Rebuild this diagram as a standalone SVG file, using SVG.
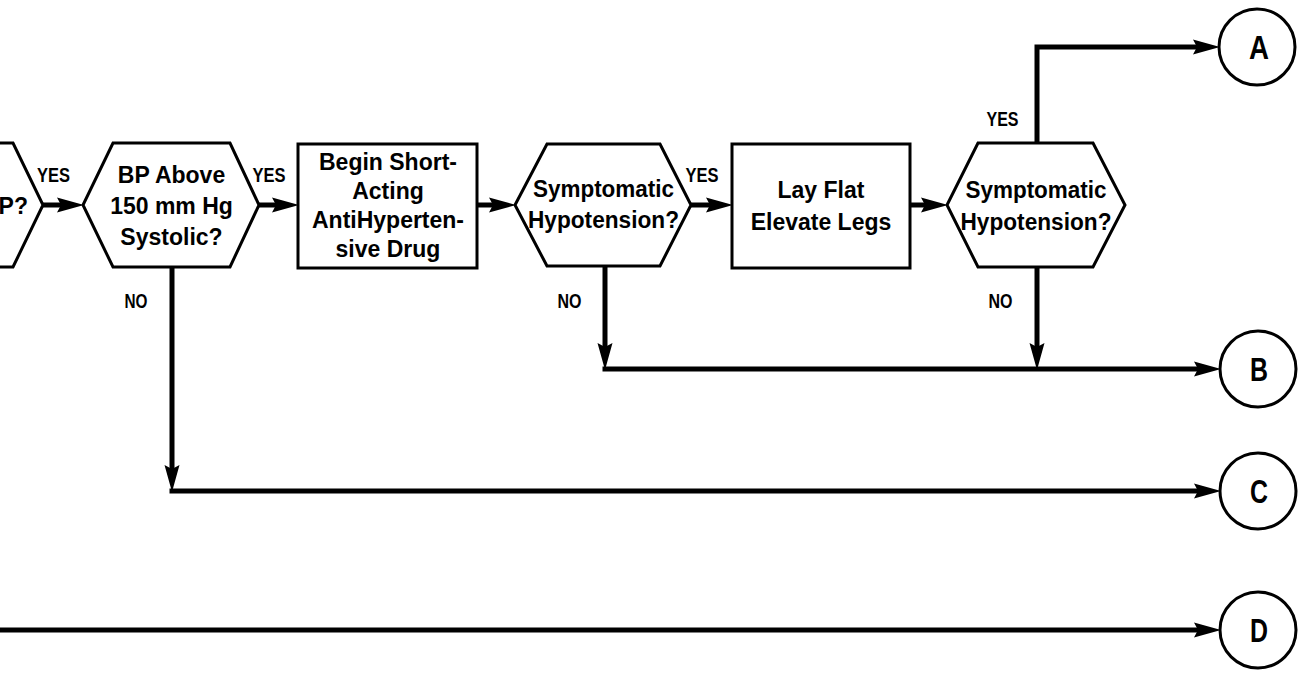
<svg xmlns="http://www.w3.org/2000/svg" width="1298" height="674" viewBox="0 0 1298 674">
<style>
.shape{fill:#fff;stroke:#000;stroke-width:3;stroke-linejoin:miter}
.conn{fill:none;stroke:#000;stroke-width:5}
.t{font-family:"Liberation Sans",Arial,sans-serif;font-weight:bold;font-size:23px;text-anchor:middle;fill:#000}
.lbl{font-family:"Liberation Sans",Arial,sans-serif;font-weight:bold;font-size:20px;text-anchor:middle;fill:#000}
.ltr{font-family:"Liberation Sans",Arial,sans-serif;font-weight:bold;font-size:33px;text-anchor:middle;fill:#000}
</style>
<defs>
<marker id="arr" markerUnits="userSpaceOnUse" markerWidth="28" markerHeight="16" viewBox="0 0 28 16" refX="16" refY="8" orient="auto">
<path d="M0,0.5 L27,8 L0,15.5 L4,8 Z" fill="#000"/>
</marker>
</defs>

<g id="connectors">
<line class="conn" x1="43" y1="205" x2="73" y2="205" marker-end="url(#arr)"/>
<line class="conn" x1="259" y1="205" x2="288" y2="205" marker-end="url(#arr)"/>
<line class="conn" x1="477" y1="205" x2="505" y2="205" marker-end="url(#arr)"/>
<line class="conn" x1="691" y1="205" x2="722" y2="205" marker-end="url(#arr)"/>
<line class="conn" x1="910" y1="205" x2="937" y2="205" marker-end="url(#arr)"/>
<polyline class="conn" points="1037,143 1037,47 1209,47" marker-end="url(#arr)"/>
<line class="conn" x1="1037" y1="267" x2="1037" y2="359" marker-end="url(#arr)"/>
<line class="conn" x1="605" y1="267" x2="605" y2="359" marker-end="url(#arr)"/>
<line class="conn" x1="602.5" y1="369" x2="1210" y2="369" marker-end="url(#arr)"/>
<line class="conn" x1="172" y1="267" x2="172" y2="481" marker-end="url(#arr)"/>
<line class="conn" x1="169.5" y1="491" x2="1210" y2="491" marker-end="url(#arr)"/>
<line class="conn" x1="0" y1="630" x2="1210" y2="630" marker-end="url(#arr)"/>
<text class="lbl" x="53.5" y="182" textLength="33" lengthAdjust="spacingAndGlyphs">YES</text>
<text class="lbl" x="269" y="182" textLength="33" lengthAdjust="spacingAndGlyphs">YES</text>
<text class="lbl" x="702" y="182" textLength="33" lengthAdjust="spacingAndGlyphs">YES</text>
<text class="lbl" x="1002.5" y="126" textLength="32" lengthAdjust="spacingAndGlyphs">YES</text>
<text class="lbl" x="136" y="308" textLength="23" lengthAdjust="spacingAndGlyphs">NO</text>
<text class="lbl" x="569.5" y="308" textLength="24" lengthAdjust="spacingAndGlyphs">NO</text>
<text class="lbl" x="1000.5" y="308" textLength="24" lengthAdjust="spacingAndGlyphs">NO</text>
</g>

<g id="node-bp-prev">
<polyline class="shape" points="-2,143 13,143 43,205 13,267 -2,267"/>
<text class="t" x="28" y="214" style="text-anchor:end">P?</text>
</g>

<g id="node-bp-above">
<polygon class="shape" points="113,143 230,143 259,205 230,267 113,267 83,205"/>
<text class="t" x="171.5" y="183">BP Above</text>
<text class="t" x="171.5" y="214">150 mm Hg</text>
<text class="t" x="171.5" y="245">Systolic?</text>
</g>

<g id="node-begin-drug">
<rect class="shape" x="298" y="144" width="179" height="124"/>
<text class="t" x="388" y="170">Begin Short-</text>
<text class="t" x="388" y="199">Acting</text>
<text class="t" x="388" y="228">AntiHyperten-</text>
<text class="t" x="388" y="257">sive Drug</text>
</g>

<g id="node-symptomatic-1">
<polygon class="shape" points="547,144 660,144 691,205 660,266 547,266 515,205"/>
<text class="t" x="603.5" y="197" textLength="141" lengthAdjust="spacingAndGlyphs">Symptomatic</text>
<text class="t" x="603.5" y="228" textLength="151" lengthAdjust="spacingAndGlyphs">Hypotension?</text>
</g>

<g id="node-lay-flat">
<rect class="shape" x="732" y="144" width="178" height="124"/>
<text class="t" x="821" y="198">Lay Flat</text>
<text class="t" x="821" y="230">Elevate Legs</text>
</g>

<g id="node-symptomatic-2">
<polygon class="shape" points="978,143 1093,143 1125,205 1093,267 978,267 947,205"/>
<text class="t" x="1036" y="198" textLength="141" lengthAdjust="spacingAndGlyphs">Symptomatic</text>
<text class="t" x="1036" y="230" textLength="151" lengthAdjust="spacingAndGlyphs">Hypotension?</text>
</g>

<g id="node-A">
<circle class="shape" cx="1257" cy="47" r="38"/>
<text class="ltr" x="1259" y="59" textLength="20" lengthAdjust="spacingAndGlyphs">A</text>
</g>
<g id="node-B">
<circle class="shape" cx="1258" cy="369" r="38"/>
<text class="ltr" x="1259" y="381" textLength="18" lengthAdjust="spacingAndGlyphs">B</text>
</g>
<g id="node-C">
<circle class="shape" cx="1258" cy="491" r="38"/>
<text class="ltr" x="1259" y="503" textLength="18" lengthAdjust="spacingAndGlyphs">C</text>
</g>
<g id="node-D">
<circle class="shape" cx="1258" cy="630" r="38"/>
<text class="ltr" x="1259" y="642" textLength="18" lengthAdjust="spacingAndGlyphs">D</text>
</g>
</svg>
